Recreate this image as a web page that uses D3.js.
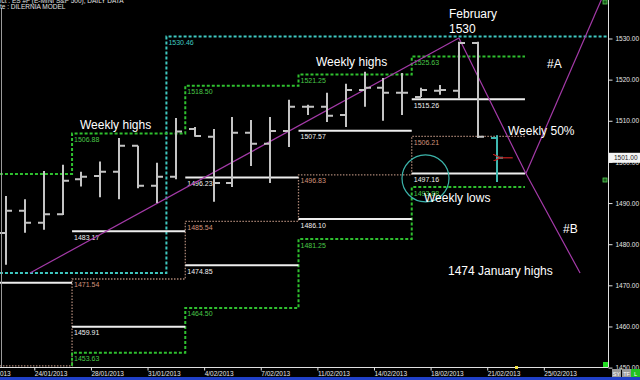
<!DOCTYPE html>
<html><head><meta charset="utf-8">
<script src="https://cdn.jsdelivr.net/npm/d3@7"></script>
<style>html,body{margin:0;padding:0;background:#000;overflow:hidden}svg{display:block}</style>
</head><body>
<svg id="c" width="640" height="380"></svg>
<script>
// ---------- DATA ----------
const barDates = ["22/01/2013","23/01/2013","24/01/2013","25/01/2013","27/01/2013","28/01/2013","29/01/2013","30/01/2013","31/01/2013","1/02/2013","3/02/2013","4/02/2013","5/02/2013","6/02/2013","7/02/2013","8/02/2013","10/02/2013","11/02/2013","12/02/2013","13/02/2013","14/02/2013","15/02/2013","17/02/2013","18/02/2013","19/02/2013","20/02/2013","21/02/2013"];
const opens  = [1482.7,1488.1,1485.2,1487.3,1495.8,1496.6,1497.6,1503.9,1494.2,1496.4,1508.0,1506.1,1494.9,1507.1,1504.4,1507.5,1513.4,1513.4,1511.4,1517.5,1518.0,1516.8,1515.8,1517.3,1517.3,1528.9,1505.8];
const highs  = [1491.7,1490.9,1497.8,1499.3,1497.6,1500.1,1505.8,1503.9,1499.8,1510.7,1508.5,1508.0,1510.9,1510.2,1510.9,1515.1,1513.9,1516.8,1519.0,1521.9,1520.4,1521.6,1518.0,1518.7,1529.2,1529.2,1506.5];
const lows   = [1475.0,1482.8,1483.5,1487.1,1494.0,1491.4,1490.9,1493.6,1490.0,1495.8,1506.1,1490.3,1493.9,1499.0,1494.9,1503.6,1511.4,1509.7,1508.5,1513.4,1510.0,1511.4,1515.8,1516.3,1515.3,1505.8,1495.1];
const closes = [1488.1,1485.2,1487.3,1495.4,1496.4,1497.6,1503.9,1494.2,1496.4,1507.4,1506.3,1494.9,1507.1,1504.4,1507.5,1513.4,1513.4,1511.2,1517.5,1518.0,1516.8,1516.8,1517.5,1517.5,1528.9,1506.1,1501.0];

const tickLabels   = ["21/01/2013","24/01/2013","28/01/2013","31/01/2013","4/02/2013","7/02/2013","11/02/2013","14/02/2013","18/02/2013","21/02/2013","25/02/2013"];
const tickBarIndex = [-1,2,5,8,11,14,17,20,23,26,29];
const priceTicks   = [1450,1460,1470,1480,1490,1500,1510,1520,1530];

// weekly levels (week starts at bar index; last entry = end of last week)
const weekFirstBar = [-3,4,10,16,22,28];
const weeklyHigh   = [1497.07,1506.88,1518.50,1521.25,1525.63];
const weeklyUpper  = [1470.65,1483.17,1496.23,1507.57,1515.26];
const weeklyMid    = [1450.40,1471.54,1485.54,1496.83,1506.21];
const weeklyLower  = [1430.15,1459.91,1474.85,1486.10,1497.16];
const weeklyLow    = [1440.00,1453.63,1464.50,1481.25,1493.88];

// monthly level
const monthFirstBar = [-3,9,33];
const monthlyLevel  = [1473.00,1530.46];

// hand drawn trend lines (bar index, price)
const trendUp   = [[1.27,1473.0],[24.0,1530.1]];
const trendDown = [[24.0,1530.1],[27.55,1497.16],[30.42,1473.0]];
const trendA    = [[27.55,1497.16],[31.6,1540.0]];
const lastPrice = 1501.00;

const headerLines = ["ict : ES #F (E-MINI S&P 500), DAILY DATA","te : DILERNIA MODEL"];

// ---------- CHART ----------
const svg = d3.select("#c");
svg.append("rect").attr("width",640).attr("height",380).attr("fill","#000");
const x = d3.scaleLinear().domain([-0.318, 31.9]).range([0, 608]);
const y = d3.scaleLinear().domain([1450, 1530]).range([367.6, 38.5]);
const xe = b => x(b - 0.5);

svg.append("clipPath").attr("id","plot").append("rect").attr("x",0).attr("y",0).attr("width",608).attr("height",367);
const g = svg.append("g").attr("clip-path","url(#plot)");

const FONT = "'Liberation Sans', Arial, sans-serif";
const GREEN = "#2fc02f", TEAL = "#3ec8c0", BROWN = "#a98474", WHITE = "#eeeeee";

// step line helper
function stepPts(levels, firsts){
  const pts = levels.map((v,i)=>[xe(firsts[i]), y(v)]);
  pts.push([xe(firsts[firsts.length-1]), y(levels[levels.length-1])]);
  return pts;
}
const stepLine = d3.line().curve(d3.curveStepAfter);

// monthly teal
g.append("path").attr("d", stepLine(stepPts(monthlyLevel, monthFirstBar)))
  .attr("fill","none").attr("stroke",TEAL).attr("stroke-width",2).attr("stroke-dasharray","3,2");

// brown mid
g.append("path").attr("d", stepLine(stepPts(weeklyMid, weekFirstBar)))
  .attr("fill","none").attr("stroke",BROWN).attr("stroke-width",1.3).attr("stroke-dasharray","1.5,1.5");
// green high / low
[weeklyHigh, weeklyLow].forEach(arr=>{
  g.append("path").attr("d", stepLine(stepPts(arr, weekFirstBar)))
    .attr("fill","none").attr("stroke",GREEN).attr("stroke-width",2).attr("stroke-dasharray","3,2");
});
// white upper / lower
[weeklyUpper, weeklyLower].forEach(arr=>{
  arr.forEach((v,i)=>{
    g.append("line").attr("x1",xe(weekFirstBar[i])).attr("x2",xe(weekFirstBar[i+1]))
      .attr("y1",y(v)).attr("y2",y(v)).attr("stroke",WHITE).attr("stroke-width",2);
  });
});

// level labels
function lab(v, b, col){
  g.append("text").attr("x", xe(b)+2).attr("y", y(v)+8.5).text(v.toFixed(2))
    .attr("fill",col).attr("font-family",FONT).attr("font-size","7px");
}
for(let i=1;i<weeklyHigh.length;i++){
  lab(weeklyHigh[i], weekFirstBar[i], "#48c848");
  lab(weeklyUpper[i], weekFirstBar[i], "#f0f0f0");
  lab(weeklyMid[i], weekFirstBar[i], "#d0937a");
  lab(weeklyLower[i], weekFirstBar[i], "#f0f0f0");
  lab(weeklyLow[i], weekFirstBar[i], "#48c848");
}
lab(monthlyLevel[1], monthFirstBar[1], TEAL);

// trend lines
const tl = d3.line().x(d=>x(d[0])).y(d=>y(d[1]));
[trendUp, trendDown, trendA].forEach(t=>{
  g.append("path").attr("d", tl(t)).attr("fill","none").attr("stroke","#a43aa8").attr("stroke-width",1.2);
});

// OHLC bars
opens.forEach((o,i)=>{
  const xi = Math.round(x(i));
  const col = i===opens.length-1 ? "#3fb8b0" : "#c4c4c4";
  const p = `M${xi},${y(highs[i])}V${y(lows[i])}M${xi-6},${y(o)}H${xi}M${xi},${y(closes[i])}H${xi+6}`;
  g.append("path").attr("d",p).attr("fill","none").attr("stroke",col).attr("stroke-width",2);
});

// circle & arrow
g.append("circle").attr("cx",x(22.23)).attr("cy",y(1496.0)).attr("r",23.5)
  .attr("fill","none").attr("stroke","#3cb4aa").attr("stroke-width",1.2);
svg.append("defs").append("marker").attr("id","ah").attr("viewBox","0 0 10 10").attr("refX",1).attr("refY",5)
  .attr("markerWidth",6).attr("markerHeight",6).attr("orient","auto")
  .append("path").attr("d","M10,0L0,5L10,10").attr("fill","none").attr("stroke","#c82020").attr("stroke-width",1.6);
g.append("line").attr("x1",x(26.85)).attr("x2",x(26.15)).attr("y1",y(lastPrice)).attr("y2",y(lastPrice))
  .attr("stroke","#c82020").attr("stroke-width",1.2).attr("marker-end","url(#ah)");

// annotations
const notes = [
  ["Weekly highs",80,129],["Weekly highs",316,66],["February",449,18],["1530",449,33],
  ["#A",547,68],["Weekly 50%",508,135],["Weekly lows",424,202],["#B",563,233],["1474 January highs",448,275]
];
notes.forEach(n=>{
  svg.append("text").attr("x",n[1]).attr("y",n[2]).text(n[0]).attr("fill","#fff")
    .attr("font-family",FONT).attr("font-size","12px");
});

// axes
svg.append("line").attr("x1",608.5).attr("x2",608.5).attr("y1",0).attr("y2",367).attr("stroke","#e0e0e0");
svg.append("line").attr("x1",0).attr("x2",608.5).attr("y1",367.5).attr("y2",367.5).attr("stroke","#e0e0e0");
svg.append("line").attr("x1",1.5).attr("x2",1.5).attr("y1",8).attr("y2",367).attr("stroke","#9a9a9a");

const ya = svg.append("g").attr("transform","translate(608.5,0)")
  .call(d3.axisRight(y).tickValues(priceTicks).tickFormat(d=>d.toFixed(2)).tickSize(4).tickPadding(3));
ya.select(".domain").remove();
ya.selectAll("line").attr("stroke","#e0e0e0");
ya.selectAll("text").attr("fill","#e6e6e6").attr("font-family",FONT).attr("font-size","6.5px");

const xa = svg.append("g").attr("transform","translate(0,367.5)")
  .call(d3.axisBottom(x).tickValues(tickBarIndex.map(b=>b-0.5)).tickFormat((d,i)=>tickLabels[i]).tickSize(3));
xa.select(".domain").remove();
xa.selectAll("line").attr("stroke","#e0e0e0");
xa.selectAll("text").attr("fill","#e6e6e6").attr("font-family",FONT).attr("font-size","6.5px")
  .attr("text-anchor","start").attr("y",8).attr("dy",0);

// last price box
svg.append("rect").attr("x",609).attr("y",y(lastPrice)-5).attr("width",31).attr("height",10).attr("fill","#f4f4f4");
svg.append("text").attr("x",614).attr("y",y(lastPrice)+2.5).text(lastPrice.toFixed(2)).attr("fill","#222")
  .attr("font-family",FONT).attr("font-size","6.5px");

// header
headerLines.forEach((t,i)=>{
  svg.append("text").attr("x",0).attr("y",3+i*5.5).text(t).attr("fill","#e0e0e0")
    .attr("font-family",FONT).attr("font-size","6.5px");
});

// bottom decorations
svg.append("rect").attr("x",0).attr("y",377).attr("width",640).attr("height",3).attr("fill","#2040c8");
svg.append("rect").attr("x",603).attr("y",362).attr("width",5).attr("height",5).attr("fill","#22dd22");
svg.append("rect").attr("x",515).attr("y",366).attr("width",3).attr("height",3).attr("fill","#f0e040");
[["SY",612,"#9a9a9a"],["TF",622,"#9a9a9a"],["L",631,"#22c022"]].forEach(b=>{
  svg.append("rect").attr("x",b[1]).attr("y",369).attr("width",9).attr("height",8).attr("fill",b[2]);
  svg.append("text").attr("x",b[1]+4.5).attr("y",375.5).attr("text-anchor","middle").text(b[0])
    .attr("fill","#fff").attr("font-family",FONT).attr("font-size","5.5px");
});
[[603,0],[603,178]].forEach(p=>{
  svg.append("rect").attr("x",p[0]).attr("y",p[1]).attr("width",4).attr("height",4)
    .attr("fill","#1a5a1a").attr("stroke","#5c5").attr("stroke-width",0.8);
});
</script>
</body></html>
